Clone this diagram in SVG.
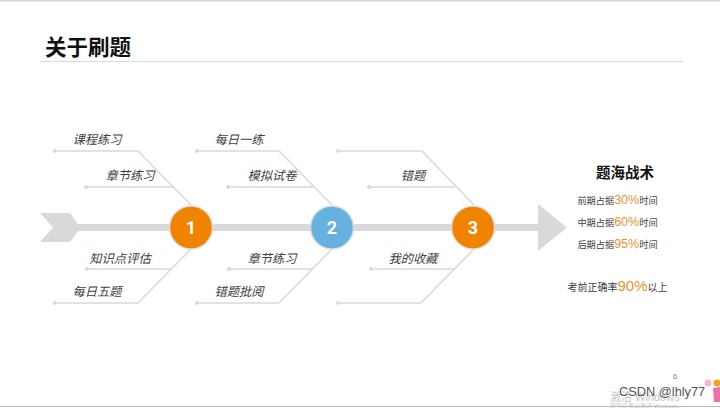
<svg xmlns="http://www.w3.org/2000/svg" width="720" height="408" viewBox="0 0 720 408">
<style>
text{font-family:"Liberation Sans","Noto Sans CJK SC",sans-serif}
.bone{fill:none;stroke:#d9d9d9;stroke-width:1.5}
.dot{fill:#d9d9d9}
.lab{font-size:12.300px;font-style:italic;fill:#404040;text-anchor:middle}
.num{font-size:18px;font-weight:bold;fill:#fff;text-anchor:middle;font-family:Roboto,"Liberation Sans",sans-serif}
.nc{stroke:#dcdcdc;stroke-width:1.5}
.p{font-size:9.200px;fill:#404040;text-anchor:middle}
.o{fill:#f0922b;font-size:12.500px}
</style>
<rect width="720" height="408" fill="#fff"/>
<rect width="720" height="1.500" fill="#d4d4d4"/>
<text x="45" y="55" font-size="21.500" font-weight="bold" fill="#111">关于刷题</text>
<rect x="40" y="61" width="643" height="1" fill="#d9d9d9"/>
<g id="connectors">
<path fill="#d9d9d9" d="M40 213H70L78 224H538V204L567 227.500L538 251V231H78L70 242H40L53 227.500Z"/>
<path class="bone" d="M55 151H138L191 205M86 187H173M55 303H138L191 249M87 269H171"/>
<path class="bone" d="M197 151H279L332 205M228 187H313M197 303H279L332 249M229 269H312"/>
<path class="bone" d="M338 151H422L474 205M369 187H455M338 303H421L474 249M371 269H453"/>
<g class="dot">
<circle cx="55" cy="151" r="2"/><circle cx="86" cy="187" r="2"/><circle cx="55" cy="303" r="2"/><circle cx="87" cy="269" r="2"/>
<circle cx="197" cy="151" r="2"/><circle cx="228" cy="187" r="2"/><circle cx="197" cy="303" r="2"/><circle cx="229" cy="269" r="2"/>
<circle cx="338" cy="151" r="2"/><circle cx="369" cy="187" r="2"/><circle cx="338" cy="303" r="2"/><circle cx="371" cy="269" r="2"/>
</g>
</g>
<g id="node1"><circle class="nc" cx="191" cy="227.500" r="21.500" fill="#f08300"/><text class="num" x="191" y="234">1</text></g>
<g id="node2"><circle class="nc" cx="332" cy="227.500" r="21.500" fill="#65b1e0"/><text class="num" x="332" y="234">2</text></g>
<g id="node3"><circle class="nc" cx="473" cy="227.500" r="21.500" fill="#f08300"/><text class="num" x="473" y="234">3</text></g>
<g id="labels">
<text class="lab" x="97" y="144">课程练习</text>
<text class="lab" x="130" y="180">章节练习</text>
<text class="lab" x="120" y="263">知识点评估</text>
<text class="lab" x="97" y="296">每日五题</text>
<text class="lab" x="239" y="144">每日一练</text>
<text class="lab" x="272" y="180">模拟试卷</text>
<text class="lab" x="272" y="263">章节练习</text>
<text class="lab" x="239" y="296">错题批阅</text>
<text class="lab" x="413" y="180">错题</text>
<text class="lab" x="413" y="263">我的收藏</text>
</g>
<g id="panel">
<text x="625" y="178" font-size="14.500" font-weight="bold" fill="#111" text-anchor="middle">题海战术</text>
<text class="p" x="617.500" y="204">前期占据<tspan class="o">30%</tspan>时间</text>
<text class="p" x="617.500" y="226">中期占据<tspan class="o">60%</tspan>时间</text>
<text class="p" x="617.500" y="248">后期占据<tspan class="o">95%</tspan>时间</text>
<text class="p" x="617.500" y="291" style="font-size:10px">考前正确率<tspan class="o" style="font-size:15px">90%</tspan>以上</text>
</g>
<text x="675" y="379" font-size="7.500" fill="#808080" text-anchor="middle">6</text>
<text x="610" y="401" font-size="11" fill="#c4c4c4">激活 Windows</text>
<text x="610" y="407.500" font-size="6" fill="#c4c4c4">转到设置以激活 Windows。</text>
<text x="619" y="396" font-size="12.800" fill="#555">CSDN @lhly77</text>
<g id="sticker">
<circle cx="708" cy="383" r="3.500" fill="#f7b7cf"/>
<circle cx="717" cy="383" r="3.500" fill="#f0a51e"/>
<path d="M713 388L720 387V402H714Z" fill="#ef6fa8"/>
</g>
<rect y="406" width="720" height="1" fill="#bdbdbd"/>
</svg>
